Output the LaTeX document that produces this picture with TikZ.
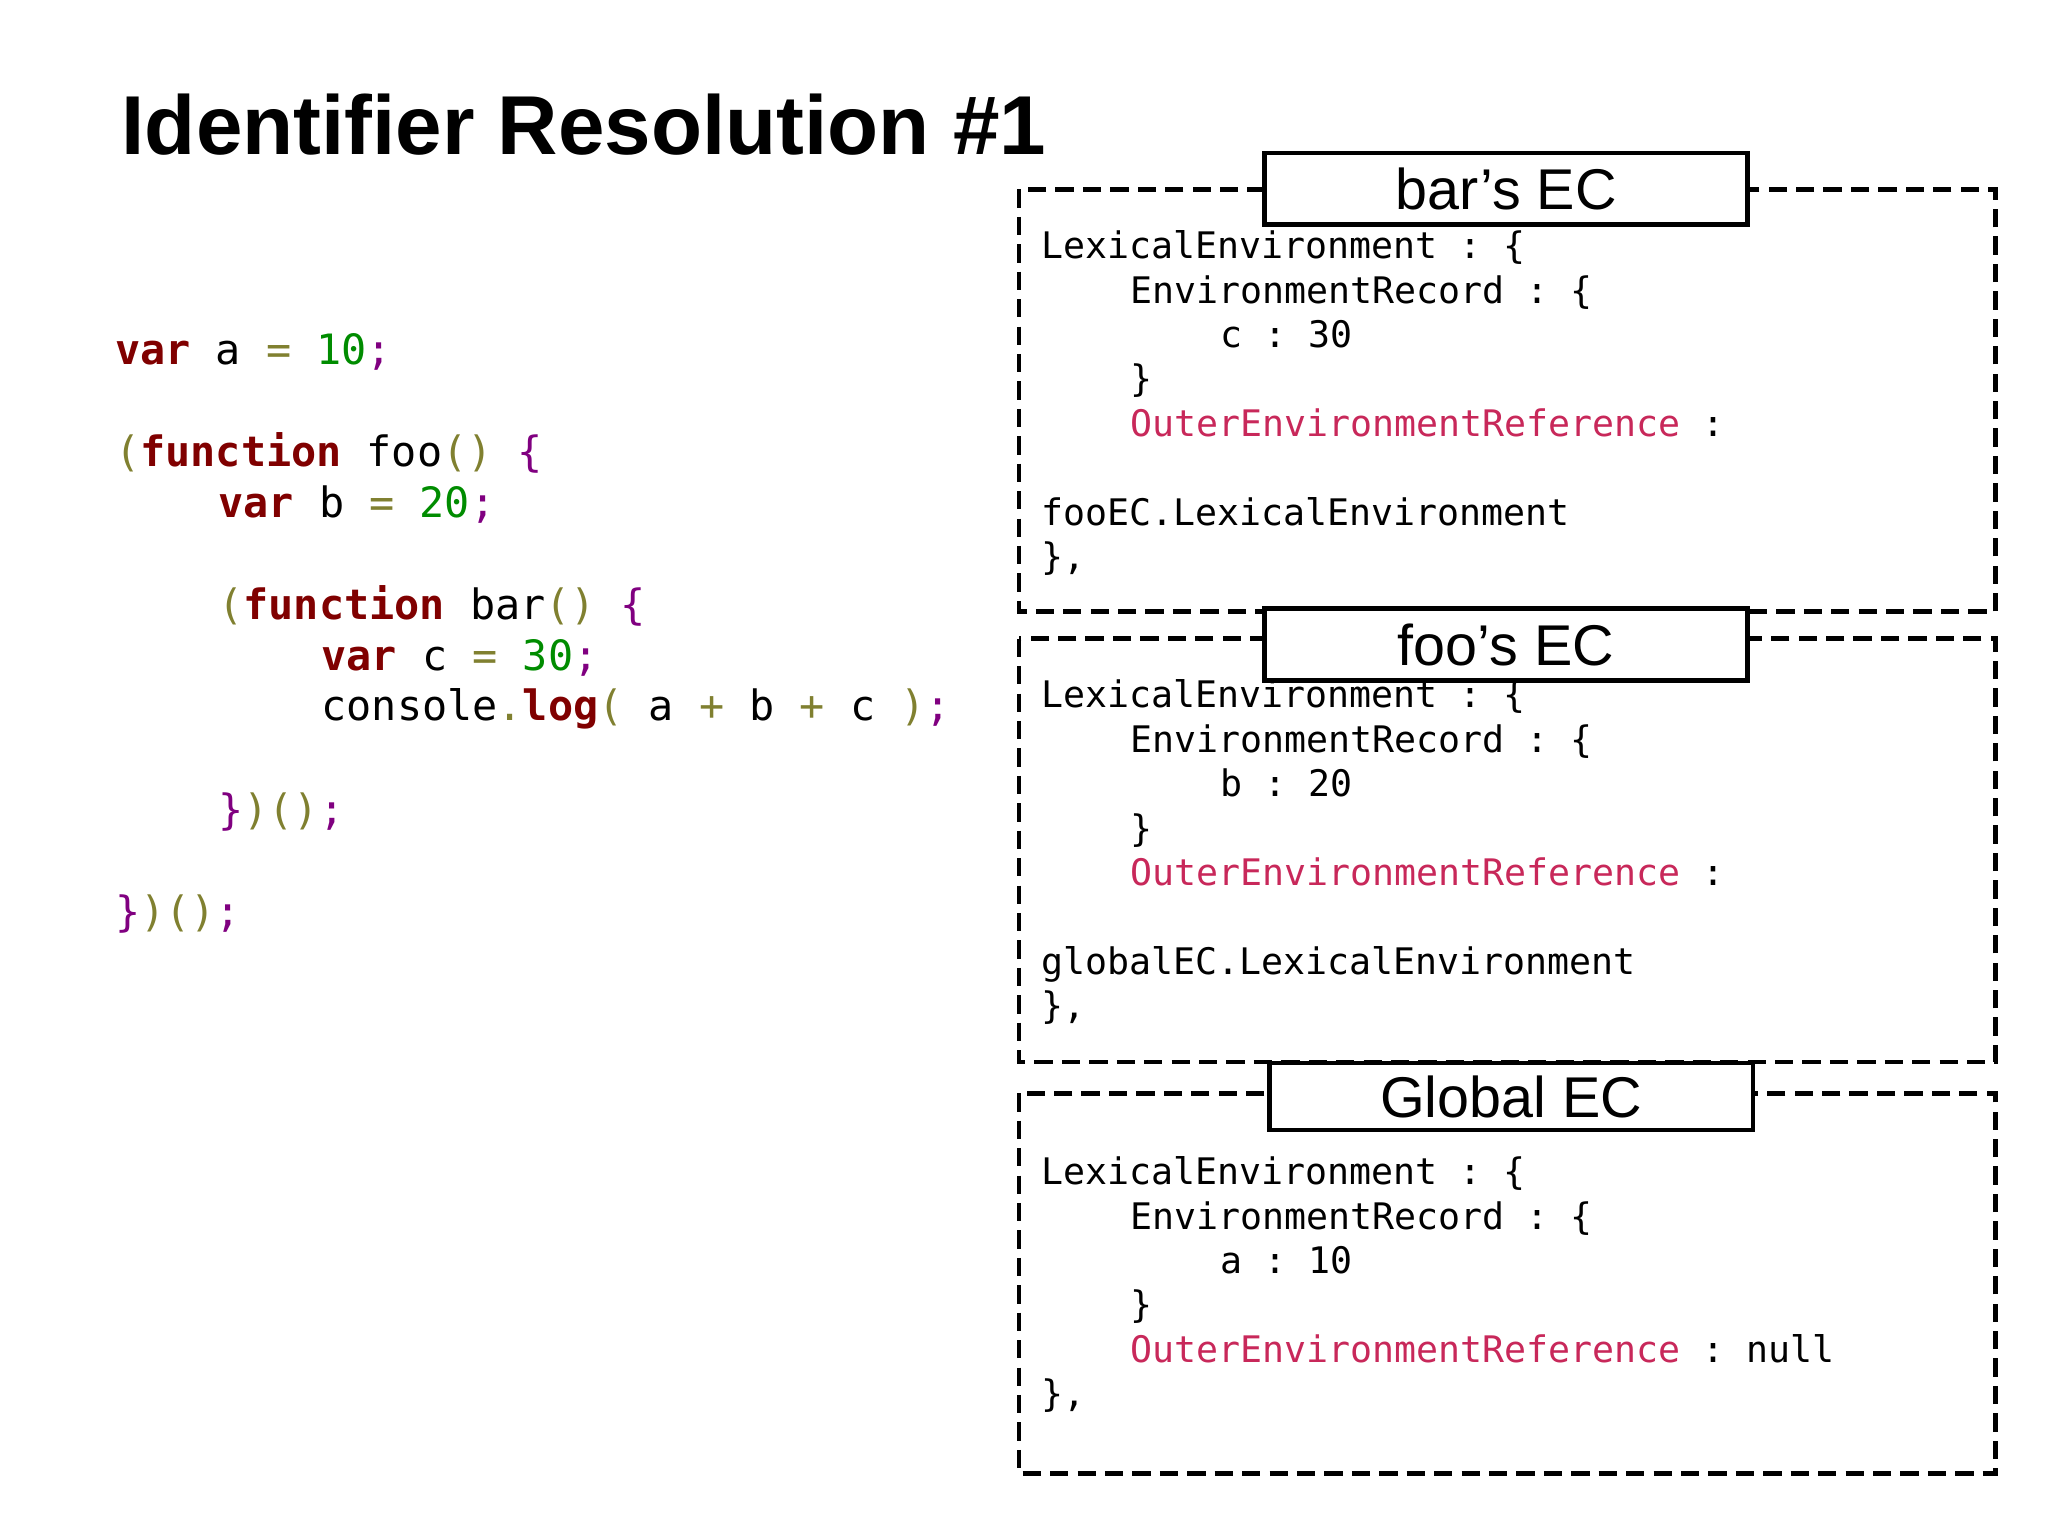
\documentclass[tikz,border=0pt]{standalone}
\usepackage{fontspec}
\setmainfont{Liberation Sans}
\setmonofont{DejaVu Sans Mono}
\definecolor{kw}{HTML}{800000}
\definecolor{num}{HTML}{008C00}
\definecolor{par}{HTML}{808030}
\definecolor{brc}{HTML}{800080}
\definecolor{oer}{HTML}{C8285A}
\newcommand{\cK}[1]{\textcolor{kw}{\textbf{#1}}}
\newcommand{\cN}[1]{\textcolor{num}{#1}}
\newcommand{\cP}[1]{\textcolor{par}{#1}}
\newcommand{\cB}[1]{\textcolor{brc}{#1}}
\begin{document}
\begin{tikzpicture}[x=1pt,y=-1pt,
  code/.style={anchor=base west,inner sep=0,font=\fontsize{32}{32}\ttfamily},
  mono/.style={anchor=base west,inner sep=0,font=\fontsize{28}{28}\ttfamily},
  frame/.style={draw,line width=3.5pt,dash pattern=on 14pt off 7pt},
  lbl/.style={draw,line width=3.5pt,fill=white,inner sep=0,font=\fontsize{44}{44}\selectfont}]
\useasboundingbox (0,0) rectangle (1568,1176);
\node[anchor=base west,inner sep=0,font=\fontsize{64}{64}\bfseries] (title) at (93,118) {Identifier Resolution \#1};
% code
\node[code] (c1) at (88,279) {\cK{var} a \cP{=} \cN{10}\cB{;}};
\node[code] (c2) at (88,357) {\cP{(}\cK{function} foo\cP{()} \cB{\{}};
\node[code] (c3) at (167,396) {\cK{var} b \cP{=} \cN{20}\cB{;}};
\node[code] (c4) at (167,474) {\cP{(}\cK{function} bar\cP{()} \cB{\{}};
\node[code] (c5) at (246,513) {\cK{var} c \cP{=} \cN{30}\cB{;}};
\node[code] (c6) at (246,552) {console\cP{.}\cK{log}\cP{(} a \cP{+} b \cP{+} c \cP{)}\cB{;}};
\node[code] (c7) at (167,631) {\cB{\}}\cP{)()}\cB{;}};
\node[code] (c8) at (88,709) {\cB{\}}\cP{)()}\cB{;}};
% frames
\draw[frame] (780,145) rectangle (1528,468);
\draw[frame] (780,489) rectangle (1528,813);
\draw[frame] (780,837) rectangle (1528,1128);
\node[lbl,minimum width=370,minimum height=55] (bar) at (1153,144.5) {bar’s EC};
\node[lbl,minimum width=370,minimum height=55] (foo) at (1153,493.5) {foo’s EC};
\node[lbl,minimum width=370,minimum height=51] (glob) at (1157,839.5) {Global EC};
% bar
\node[mono] (b1) at (797,198) {LexicalEnvironment : \{};
\node[mono] (b2) at (865,232) {EnvironmentRecord : \{};
\node[mono] (b3) at (934,266) {c : 30};
\node[mono] (b4) at (865,300) {\}};
\node[mono] (b5) at (865,334) {\textcolor{oer}{OuterEnvironmentReference} :};
\node[mono] (b6) at (797,402) {fooEC.LexicalEnvironment};
\node[mono] (b7) at (797,436) {\},};
% foo
\node[mono] (f1) at (797,542) {LexicalEnvironment : \{};
\node[mono] (f2) at (865,576) {EnvironmentRecord : \{};
\node[mono] (f3) at (934,610) {b : 20};
\node[mono] (f4) at (865,644) {\}};
\node[mono] (f5) at (865,678) {\textcolor{oer}{OuterEnvironmentReference} :};
\node[mono] (f6) at (797,746) {globalEC.LexicalEnvironment};
\node[mono] (f7) at (797,780) {\},};
% global
\node[mono] (g1) at (797,907) {LexicalEnvironment : \{};
\node[mono] (g2) at (865,941) {EnvironmentRecord : \{};
\node[mono] (g3) at (934,975) {a : 10};
\node[mono] (g4) at (865,1009) {\}};
\node[mono] (g5) at (865,1043) {\textcolor{oer}{OuterEnvironmentReference} : null};
\node[mono] (g6) at (797,1077) {\},};
\end{tikzpicture}
\end{document}
